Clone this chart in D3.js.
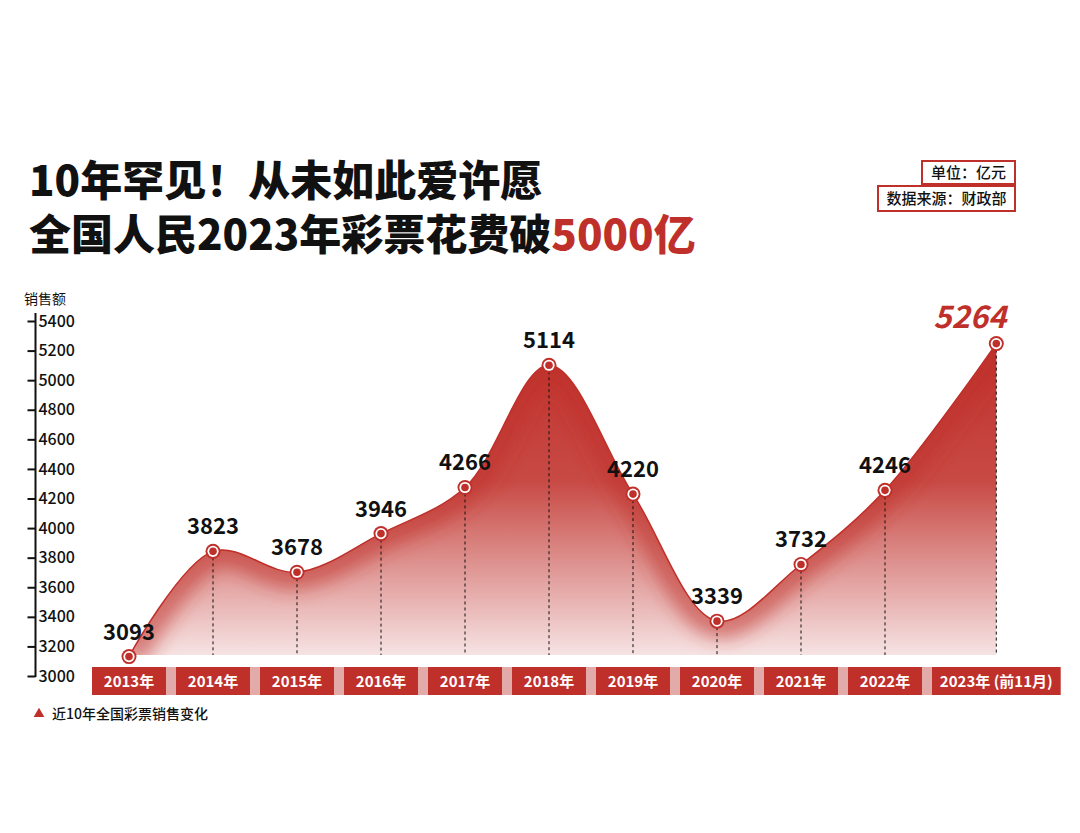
<!DOCTYPE html>
<html>
<head>
<meta charset="utf-8">
<script src="https://cdn.jsdelivr.net/npm/d3@7"></script>
<style>
  html, body { margin: 0; padding: 0; background: #fff; }
  svg { display: block; font-family: "Noto Sans CJK SC", "Noto Sans", sans-serif; }
</style>
</head>
<body>
<svg width="1080" height="833"></svg>
<script>
(function() {

  // data
  var years = ['2013年', '2014年', '2015年', '2016年', '2017年', '2018年',
               '2019年', '2020年', '2021年', '2022年', '2023年 (前11月)'];
  var sales = [3093, 3823, 3678, 3946, 4266, 5114, 4220, 3339, 3732, 4246, 5264];
  var yTicks = [3000, 3200, 3400, 3600, 3800, 4000, 4200, 4400, 4600, 4800, 5000, 5200, 5400];

  var red = '#c0302b';
  var svg = d3.select('svg');
  var defs = svg.append('defs');

  // x layout: one slot per year, last slot is wider for its longer label
  var gap = 10;
  var units = years.map(function(d, i) { return i === years.length - 1 ? 1.65 : 1; });
  var starts = [];
  var acc = 0;
  units.forEach(function(u) { starts.push(acc); acc += u; });
  var x = d3.scaleLinear().domain([0, acc]).range([92, 92 + acc * 84]);
  var boxes = years.map(function(d, i) {
    var x0 = x(starts[i]);
    var x1 = x(starts[i] + units[i]) - gap;
    return {label: d, x0: x0, x1: x1, cx: (x0 + x1) / 2};
  });

  var yAxis = d3.scaleLinear().domain([3000, 5400]).range([676, 321]);
  var y = d3.scaleLinear().domain([3000, 5400]).range([670, 324]);
  var base = 655;

  var points = sales.map(function(v, i) { return {v: v, x: boxes[i].cx, y: y(v), i: i}; });

  // titles
  var title = svg.append('g').attr('font-weight', 900).attr('font-size', 42).attr('fill', '#111');
  title.append('text').attr('x', 29).attr('y', 196).text('10年罕见！从未如此爱许愿');
  var t2 = title.append('text').attr('x', 29).attr('y', 250);
  t2.append('tspan').text('全国人民2023年彩票花费破');
  t2.append('tspan').attr('fill', red).text('5000亿');

  // unit / source boxes
  var notes = [
    {t: '单位：亿元', x0: 922, y0: 161, h: 23},
    {t: '数据来源：财政部', x0: 878, y0: 186, h: 25}
  ];
  notes.forEach(function(n) {
    svg.append('rect')
      .attr('x', n.x0).attr('y', n.y0)
      .attr('width', 1015 - n.x0).attr('height', n.h)
      .attr('fill', '#fff').attr('stroke', red).attr('stroke-width', 2);
    svg.append('text')
      .attr('x', (n.x0 + 1015) / 2).attr('y', n.y0 + n.h / 2 + 5)
      .attr('text-anchor', 'middle').attr('font-size', 15).attr('font-weight', 500)
      .attr('fill', '#111').text(n.t);
  });

  // y axis
  svg.append('text').attr('x', 24).attr('y', 304)
    .attr('font-size', 14).attr('fill', '#111').text('销售额');
  svg.append('line')
    .attr('x1', 35.5).attr('x2', 35.5).attr('y1', 313).attr('y2', 677)
    .attr('stroke', '#111').attr('stroke-width', 2);
  var ax = svg.append('g').attr('transform', 'translate(35.5,0)')
    .call(d3.axisLeft(yAxis).tickValues(yTicks).tickFormat(d3.format('d'))
      .tickSize(8).tickSizeOuter(0).tickPadding(0));
  ax.select('.domain').remove();
  ax.selectAll('.tick line').attr('stroke', '#111').attr('stroke-width', 2);
  ax.selectAll('.tick text')
    .attr('x', 3).attr('text-anchor', 'start')
    .attr('font-family', '"Noto Sans CJK SC", "Noto Sans", sans-serif')
    .attr('font-size', 16).attr('font-weight', 500).attr('fill', '#111');

  // area with gradient
  var grad = defs.append('linearGradient').attr('id', 'fillGrad')
    .attr('gradientUnits', 'userSpaceOnUse')
    .attr('x1', 0).attr('y1', 340).attr('x2', 0).attr('y2', base);
  grad.append('stop').attr('offset', '0%').attr('stop-color', '#c0302b');
  grad.append('stop').attr('offset', '45%').attr('stop-color', '#c84a45');
  grad.append('stop').attr('offset', '100%').attr('stop-color', '#f6e3e3');

  var curve = d3.curveCatmullRom.alpha(0.5);
  var area = d3.area().curve(curve)
    .x(function(d) { return d.x; }).y0(base).y1(function(d) { return d.y; });
  var line = d3.line().curve(curve)
    .x(function(d) { return d.x; }).y(function(d) { return d.y; });

  defs.append('clipPath').attr('id', 'areaClip')
    .append('path').attr('d', area(points));
  var blur = defs.append('filter').attr('id', 'glow')
    .attr('x', '-10%').attr('y', '-10%').attr('width', '120%').attr('height', '120%');
  blur.append('feGaussianBlur').attr('stdDeviation', 9);

  svg.append('path').attr('d', area(points)).attr('fill', 'url(#fillGrad)');
  svg.append('g').attr('clip-path', 'url(#areaClip)')
    .append('path').attr('d', line(points))
    .attr('fill', 'none').attr('stroke', red).attr('stroke-width', 34)
    .attr('stroke-opacity', 0.55).attr('filter', 'url(#glow)');
  svg.append('path').attr('d', line(points))
    .attr('fill', 'none').attr('stroke', red).attr('stroke-width', 1.5);

  // dashed drop lines
  svg.selectAll('.drop').data(points.slice(1)).enter().append('line')
    .attr('class', 'drop')
    .attr('x1', function(d) { return d.x; }).attr('x2', function(d) { return d.x; })
    .attr('y1', function(d) { return d.y; }).attr('y2', base)
    .attr('stroke', '#111').attr('stroke-width', 1).attr('stroke-dasharray', '3,3');

  // markers
  var mk = svg.selectAll('.mk').data(points).enter().append('g')
    .attr('class', 'mk')
    .attr('transform', function(d) { return 'translate(' + d.x + ',' + d.y + ')'; });
  mk.append('circle').attr('r', 7.5).attr('fill', red);
  mk.append('circle').attr('r', 5.6).attr('fill', '#fff');
  mk.append('circle').attr('r', 3.8).attr('fill', red);

  // value labels
  var last = points.length - 1;
  svg.selectAll('.val').data(points.slice(0, last)).enter().append('text')
    .attr('class', 'val')
    .attr('x', function(d) { return d.x; })
    .attr('y', function(d) { return d.y - 17; })
    .attr('text-anchor', 'middle').attr('font-size', 22).attr('font-weight', 700)
    .attr('fill', '#111').text(function(d) { return d.v; });
  svg.append('text')
    .attr('x', points[last].x + 10).attr('y', points[last].y - 16)
    .attr('text-anchor', 'end').attr('font-size', 31).attr('font-weight', 700)
    .attr('font-style', 'italic').attr('fill', red).text(sales[last]);

  // year band
  svg.append('rect')
    .attr('x', boxes[0].x0).attr('y', 667)
    .attr('width', boxes[last].x1 - boxes[0].x0).attr('height', 28)
    .attr('fill', '#e3aaaa');
  svg.selectAll('.box').data(boxes).enter().append('rect')
    .attr('class', 'box')
    .attr('x', function(d) { return d.x0; }).attr('y', 667)
    .attr('width', function(d) { return d.x1 - d.x0; }).attr('height', 28)
    .attr('fill', red);
  svg.selectAll('.yr').data(boxes).enter().append('text')
    .attr('class', 'yr')
    .attr('x', function(d) { return d.cx; }).attr('y', 687)
    .attr('text-anchor', 'middle').attr('font-size', 15).attr('font-weight', 700)
    .attr('fill', '#fff').text(function(d) { return d.label; });

  // footnote
  svg.append('path').attr('d', d3.symbol(d3.symbolTriangle, 50)())
    .attr('transform', 'translate(39,714)').attr('fill', red);
  svg.append('text').attr('x', 52).attr('y', 719)
    .attr('font-size', 14).attr('font-weight', 500).attr('fill', '#111')
    .text('近10年全国彩票销售变化');

})();
</script>
</body>
</html>
